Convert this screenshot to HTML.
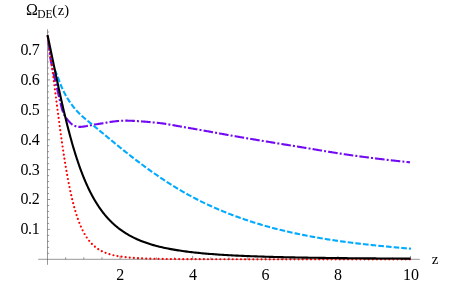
<!DOCTYPE html>
<html><head><meta charset="utf-8"><title>plot</title>
<style>
html,body{margin:0;padding:0;background:#fff;}
svg{display:block;will-change:transform;}
text{font-family:"Liberation Serif",serif;font-size:16px;fill:#000;}
</style></head><body>
<svg width="459" height="284" viewBox="0 0 459 284">
<rect width="459" height="284" fill="#fff"/>
<g stroke="#505050" stroke-width="0.6" fill="none">
<path d="M38.2,259.3 H419.8 M47.5,264.8 V29.2"/>
<path d="M65.65,259.30 v-2.0 M83.80,259.30 v-2.0 M101.95,259.30 v-2.0 M120.10,259.30 v-3.4 M138.25,259.30 v-2.0 M156.40,259.30 v-2.0 M174.55,259.30 v-2.0 M192.70,259.30 v-3.4 M210.85,259.30 v-2.0 M229.00,259.30 v-2.0 M247.15,259.30 v-2.0 M265.30,259.30 v-3.4 M283.45,259.30 v-2.0 M301.60,259.30 v-2.0 M319.75,259.30 v-2.0 M337.90,259.30 v-3.4 M356.05,259.30 v-2.0 M374.20,259.30 v-2.0 M392.35,259.30 v-2.0 M410.50,259.30 v-3.4 M47.50,253.32 h1.6 M47.50,247.34 h1.6 M47.50,241.36 h1.6 M47.50,235.38 h1.6 M47.50,229.40 h2.6 M47.50,223.42 h1.6 M47.50,217.44 h1.6 M47.50,211.46 h1.6 M47.50,205.48 h1.6 M47.50,199.50 h2.6 M47.50,193.52 h1.6 M47.50,187.54 h1.6 M47.50,181.56 h1.6 M47.50,175.58 h1.6 M47.50,169.60 h2.6 M47.50,163.62 h1.6 M47.50,157.64 h1.6 M47.50,151.66 h1.6 M47.50,145.68 h1.6 M47.50,139.70 h2.6 M47.50,133.72 h1.6 M47.50,127.74 h1.6 M47.50,121.76 h1.6 M47.50,115.78 h1.6 M47.50,109.80 h2.6 M47.50,103.82 h1.6 M47.50,97.84 h1.6 M47.50,91.86 h1.6 M47.50,85.88 h1.6 M47.50,79.90 h2.6 M47.50,73.92 h1.6 M47.50,67.94 h1.6 M47.50,61.96 h1.6 M47.50,55.98 h1.6 M47.50,50.00 h2.6 M47.50,44.02 h1.6 M47.50,38.04 h1.6 M47.50,32.06 h1.6"/>
</g>
<g fill="none" stroke-width="2.1" stroke-linejoin="round">
<path d="M47.50,35.00 L47.64,35.86 L47.77,36.73 L47.90,37.59 L48.03,38.46 L48.16,39.32 L48.28,40.19 L48.40,41.05 L48.52,41.92 L48.63,42.79 L48.74,43.65 L48.84,44.52 L48.94,45.39 L49.04,46.26 L49.13,47.13 L49.21,48.00 L49.29,48.87 L49.36,49.74 L49.44,50.61 L49.52,51.48 L49.60,52.35 L49.68,53.22 L49.77,54.09 L49.87,54.96 L49.98,55.83 L50.10,56.69 L50.23,57.55 L50.38,58.41 L50.53,59.27 L50.70,60.13 L50.87,60.99 L51.05,61.85 L51.23,62.70 L51.41,63.56 L51.58,64.42 L51.75,65.27 L51.93,66.13 L52.10,66.99 L52.28,67.84 L52.45,68.70 L52.63,69.55 L52.81,70.41 L53.00,71.26 L53.18,72.12 L53.37,72.97 L53.56,73.82 L53.75,74.68 L53.95,75.53 L54.16,76.38 L54.37,77.22 L54.58,78.07 L54.79,78.92 L55.00,79.77 L55.22,80.62 L55.43,81.46 L55.64,82.31 L55.85,83.16 L56.06,84.01 L56.27,84.86 L56.47,85.71 L56.67,86.56 L56.86,87.41 L57.05,88.27 L57.25,89.12 L57.44,89.97 L57.62,90.82 L57.81,91.68 L58.00,92.53 L58.19,93.39 L58.38,94.24 L58.58,95.09 L58.77,95.94 L58.97,96.79 L59.17,97.64 L59.38,98.49 L59.58,99.34 L59.80,100.19 L60.01,101.04 L60.22,101.90 L60.42,102.76 L60.62,103.62 L60.83,104.48 L61.04,105.34 L61.25,106.20 L61.47,107.06 L61.70,107.91 L61.93,108.76 L62.18,109.60 L62.44,110.42 L62.71,111.24 L63.00,112.05 L63.30,112.84 L63.63,113.62 L64.00,114.39 L64.40,115.16 L64.84,115.92 L65.31,116.68 L65.81,117.42 L66.32,118.15 L66.86,118.86 L67.40,119.56 L67.96,120.24 L68.52,120.90 L69.09,121.54 L69.69,122.20 L70.32,122.85 L70.97,123.47 L71.65,124.05 L72.35,124.56 L73.07,124.98 L73.82,125.36 L74.62,125.73 L75.45,126.08 L76.30,126.40 L77.16,126.65 L78.03,126.83 L78.89,126.90 L79.73,126.89 L80.58,126.85 L81.44,126.80 L82.29,126.71 L83.15,126.61 L84.01,126.50 L84.87,126.37 L85.74,126.22 L86.61,126.07 L87.47,125.90 L88.34,125.73 L89.21,125.56 L90.08,125.39 L90.95,125.21 L91.82,125.04 L92.69,124.87 L93.56,124.71 L94.43,124.56 L95.30,124.42 L96.16,124.29 L97.03,124.17 L97.90,124.04 L98.76,123.91 L99.63,123.77 L100.49,123.63 L101.36,123.49 L102.22,123.35 L103.09,123.20 L103.96,123.05 L104.82,122.91 L105.69,122.76 L106.55,122.61 L107.42,122.47 L108.29,122.33 L109.15,122.18 L110.02,122.05 L110.89,121.91 L111.75,121.78 L112.62,121.65 L113.49,121.53 L114.36,121.42 L115.22,121.31 L116.09,121.20 L116.96,121.11 L117.83,121.02 L118.69,120.94 L119.56,120.87 L120.43,120.80 L121.30,120.75 L122.17,120.71 L123.04,120.68 L123.91,120.66 L124.78,120.65 L125.65,120.65 L126.52,120.66 L127.39,120.67 L128.26,120.69 L129.13,120.71 L130.00,120.73 L130.87,120.76 L131.75,120.79 L132.62,120.83 L133.49,120.87 L134.37,120.91 L135.24,120.96 L136.11,121.01 L136.99,121.06 L137.86,121.12 L138.74,121.18 L139.61,121.24 L140.48,121.30 L141.36,121.37 L142.23,121.43 L143.11,121.50 L143.98,121.58 L144.85,121.65 L145.73,121.72 L146.60,121.80 L147.47,121.88 L148.34,121.96 L149.21,122.04 L150.09,122.12 L150.96,122.20 L151.83,122.28 L152.70,122.36 L153.57,122.44 L154.44,122.53 L155.31,122.61 L156.17,122.69 L157.04,122.77 L157.91,122.86 L158.77,122.96 L159.64,123.06 L160.51,123.17 L161.37,123.28 L162.24,123.39 L163.10,123.52 L163.96,123.64 L164.83,123.77 L165.69,123.90 L166.55,124.04 L167.42,124.18 L168.28,124.33 L169.14,124.47 L170.01,124.62 L170.87,124.77 L171.73,124.92 L172.59,125.08 L173.45,125.23 L174.31,125.39 L175.18,125.55 L176.04,125.70 L176.90,125.86 L177.76,126.02 L178.62,126.17 L179.48,126.33 L180.34,126.49 L181.21,126.64 L182.07,126.79 L182.93,126.95 L183.79,127.09 L184.65,127.24 L185.51,127.39 L186.38,127.53 L187.24,127.68 L188.10,127.82 L188.96,127.97 L189.82,128.12 L190.68,128.27 L191.54,128.42 L192.41,128.57 L193.27,128.72 L194.13,128.87 L194.99,129.02 L195.85,129.17 L196.71,129.32 L197.57,129.47 L198.43,129.63 L199.29,129.78 L200.15,129.93 L201.01,130.09 L201.87,130.24 L202.73,130.40 L203.59,130.55 L204.45,130.71 L205.31,130.86 L206.17,131.02 L207.03,131.17 L207.89,131.33 L208.75,131.48 L209.61,131.64 L210.47,131.80 L211.33,131.95 L212.19,132.11 L213.05,132.27 L213.91,132.42 L214.77,132.58 L215.63,132.74 L216.49,132.89 L217.35,133.05 L218.21,133.21 L219.07,133.36 L219.93,133.52 L220.79,133.67 L221.65,133.83 L222.51,133.99 L223.37,134.14 L224.23,134.30 L225.09,134.45 L225.95,134.61 L226.81,134.76 L227.67,134.92 L228.53,135.07 L229.39,135.22 L230.25,135.38 L231.11,135.53 L231.97,135.68 L232.84,135.84 L233.70,135.99 L234.56,136.14 L235.42,136.29 L236.28,136.44 L237.14,136.59 L238.00,136.74 L238.86,136.89 L239.72,137.04 L240.58,137.18 L241.45,137.33 L242.31,137.48 L243.17,137.62 L244.03,137.77 L244.89,137.92 L245.75,138.06 L246.62,138.21 L247.48,138.36 L248.34,138.50 L249.20,138.65 L250.06,138.79 L250.92,138.94 L251.79,139.08 L252.65,139.23 L253.51,139.37 L254.37,139.52 L255.23,139.66 L256.10,139.80 L256.96,139.95 L257.82,140.09 L258.68,140.23 L259.54,140.38 L260.41,140.52 L261.27,140.66 L262.13,140.81 L262.99,140.95 L263.86,141.09 L264.72,141.23 L265.58,141.38 L266.44,141.52 L267.31,141.66 L268.17,141.80 L269.03,141.94 L269.89,142.09 L270.75,142.23 L271.62,142.37 L272.48,142.51 L273.34,142.65 L274.20,142.79 L275.07,142.93 L275.93,143.07 L276.79,143.22 L277.66,143.36 L278.52,143.50 L279.38,143.64 L280.24,143.78 L281.11,143.92 L281.97,144.06 L282.83,144.20 L283.69,144.34 L284.56,144.48 L285.42,144.62 L286.28,144.76 L287.14,144.90 L288.01,145.04 L288.87,145.18 L289.73,145.32 L290.60,145.46 L291.46,145.60 L292.32,145.74 L293.18,145.88 L294.05,146.02 L294.91,146.16 L295.77,146.30 L296.63,146.44 L297.50,146.58 L298.36,146.72 L299.22,146.86 L300.08,147.00 L300.95,147.14 L301.81,147.29 L302.67,147.43 L303.53,147.57 L304.40,147.71 L305.26,147.86 L306.12,148.00 L306.98,148.14 L307.85,148.29 L308.71,148.43 L309.57,148.57 L310.43,148.72 L311.30,148.86 L312.16,149.01 L313.02,149.15 L313.88,149.29 L314.74,149.44 L315.61,149.58 L316.47,149.73 L317.33,149.87 L318.19,150.01 L319.06,150.16 L319.92,150.30 L320.78,150.44 L321.64,150.59 L322.51,150.73 L323.37,150.87 L324.23,151.01 L325.09,151.16 L325.96,151.30 L326.82,151.44 L327.68,151.58 L328.54,151.72 L329.41,151.86 L330.27,152.00 L331.13,152.14 L332.00,152.28 L332.86,152.42 L333.72,152.56 L334.59,152.70 L335.45,152.83 L336.31,152.97 L337.17,153.10 L338.04,153.24 L338.90,153.37 L339.77,153.51 L340.63,153.64 L341.49,153.77 L342.36,153.91 L343.22,154.04 L344.08,154.17 L344.95,154.30 L345.81,154.43 L346.68,154.55 L347.54,154.68 L348.41,154.81 L349.27,154.93 L350.14,155.06 L351.00,155.18 L351.87,155.30 L352.73,155.42 L353.60,155.54 L354.46,155.66 L355.33,155.78 L356.19,155.90 L357.06,156.02 L357.92,156.13 L358.79,156.25 L359.65,156.36 L360.52,156.48 L361.39,156.60 L362.25,156.71 L363.12,156.82 L363.99,156.94 L364.85,157.05 L365.72,157.17 L366.58,157.28 L367.45,157.39 L368.32,157.50 L369.18,157.61 L370.05,157.72 L370.92,157.84 L371.78,157.95 L372.65,158.05 L373.52,158.16 L374.39,158.27 L375.25,158.38 L376.12,158.49 L376.99,158.60 L377.85,158.70 L378.72,158.81 L379.59,158.92 L380.46,159.02 L381.33,159.13 L382.19,159.23 L383.06,159.33 L383.93,159.44 L384.80,159.54 L385.66,159.64 L386.53,159.75 L387.40,159.85 L388.27,159.95 L389.14,160.05 L390.01,160.15 L390.87,160.25 L391.74,160.35 L392.61,160.44 L393.48,160.54 L394.35,160.64 L395.22,160.74 L396.09,160.83 L396.96,160.93 L397.83,161.02 L398.69,161.12 L399.56,161.21 L400.43,161.31 L401.30,161.40 L402.17,161.49 L403.04,161.58 L403.91,161.68 L404.78,161.77 L405.65,161.86 L406.52,161.95 L407.39,162.04 L408.26,162.12 L409.13,162.21 L410.00,162.30" stroke="#7209f2" stroke-dasharray="0 2.1 2 2.1 9.6 0"/>
<path d="M54.76,69.67 L55.14,70.56 L55.52,71.46 L55.90,72.38 L56.28,73.31 L56.66,74.26 L57.04,75.22 L57.42,76.19 L57.80,77.17 L58.18,78.16 L58.56,79.16 L58.94,80.17 L59.32,81.18 L59.70,82.19 L60.08,83.20 L60.46,84.19 L60.84,85.15 L61.22,86.09 L61.60,86.99 L61.98,87.87 L62.36,88.72 L62.74,89.54 L63.12,90.34 L63.50,91.12 L63.88,91.87 L64.26,92.61 L64.64,93.34 L65.02,94.05 L65.40,94.74 L65.78,95.43 L66.17,96.10 L66.55,96.76 L66.93,97.41 L67.31,98.05 L67.69,98.68 L68.07,99.30 L68.45,99.90 L68.83,100.50 L69.21,101.08 L69.59,101.66 L69.97,102.22 L70.35,102.77 L70.73,103.32 L71.11,103.86 L71.49,104.38 L71.87,104.90 L72.25,105.41 L72.63,105.91 L73.01,106.40 L73.39,106.88 L73.77,107.36 L74.15,107.82 L74.53,108.28 L74.91,108.73 L75.29,109.18 L75.67,109.62 L76.05,110.05 L76.43,110.47 L76.81,110.89 L77.19,111.30 L77.57,111.70 L77.95,112.10 L78.33,112.49 L78.71,112.88 L79.09,113.26 L79.47,113.64 L79.85,114.01 L80.23,114.38 L80.61,114.74 L80.99,115.10 L81.37,115.45 L81.75,115.80 L82.13,116.15 L82.51,116.49 L82.89,116.83 L83.27,117.16 L83.65,117.50 L84.03,117.82 L84.41,118.15 L84.79,118.47 L85.17,118.80 L85.55,119.12 L85.93,119.43 L86.31,119.75 L86.69,120.06 L87.07,120.38 L87.45,120.69 L87.83,121.00 L88.21,121.31 L88.59,121.62 L88.98,121.93 L89.36,122.24 L89.74,122.54 L90.12,122.85 L90.50,123.16 L90.88,123.47 L91.26,123.78 L91.64,124.09 L92.02,124.40 L92.40,124.71 L92.78,125.02 L93.16,125.34 L93.54,125.65 L93.92,125.96 L94.30,126.27 L94.68,126.58 L95.06,126.89 L95.44,127.21 L95.82,127.52 L96.20,127.83 L96.58,128.14 L96.96,128.46 L97.34,128.77 L97.72,129.08 L98.10,129.40 L98.48,129.71 L98.86,130.03 L99.24,130.34 L99.62,130.65 L100.00,130.97 L101.04,131.83 L102.08,132.69 L103.12,133.55 L104.16,134.41 L105.20,135.27 L106.24,136.13 L107.28,136.99 L108.32,137.85 L109.36,138.71 L110.40,139.57 L111.44,140.42 L112.48,141.28 L113.52,142.13 L114.56,142.98 L115.60,143.84 L116.64,144.68 L117.68,145.53 L118.72,146.38 L119.76,147.22 L120.80,148.06 L121.84,148.90 L122.88,149.73 L123.92,150.56 L124.96,151.39 L126.00,152.22 L127.04,153.04 L128.08,153.86 L129.12,154.68 L130.16,155.49 L131.20,156.30 L132.24,157.11 L133.28,157.92 L134.32,158.72 L135.36,159.51 L136.40,160.31 L137.44,161.10 L138.48,161.89 L139.53,162.67 L140.57,163.46 L141.61,164.23 L142.65,165.01 L143.69,165.78 L144.73,166.55 L145.77,167.31 L146.81,168.07 L147.85,168.82 L148.89,169.58 L149.93,170.32 L150.97,171.07 L152.01,171.81 L153.05,172.54 L154.09,173.27 L155.13,174.00 L156.17,174.72 L157.21,175.44 L158.25,176.16 L159.29,176.87 L160.33,177.57 L161.37,178.28 L162.41,178.97 L163.45,179.66 L164.49,180.35 L165.53,181.04 L166.57,181.71 L167.61,182.39 L168.65,183.06 L169.69,183.72 L170.73,184.38 L171.77,185.04 L172.81,185.69 L173.85,186.33 L174.89,186.97 L175.93,187.60 L176.97,188.23 L178.01,188.86 L179.05,189.48 L180.09,190.09 L181.13,190.70 L182.17,191.30 L183.21,191.90 L184.25,192.49 L185.29,193.08 L186.33,193.67 L187.37,194.24 L188.41,194.82 L189.45,195.39 L190.49,195.95 L191.53,196.51 L192.57,197.07 L193.61,197.62 L194.65,198.16 L195.69,198.70 L196.73,199.24 L197.77,199.77 L198.81,200.29 L199.85,200.82 L200.89,201.33 L201.93,201.85 L202.97,202.36 L204.01,202.86 L205.05,203.36 L206.09,203.86 L207.13,204.35 L208.17,204.83 L209.21,205.32 L210.25,205.79 L211.29,206.27 L212.33,206.74 L213.37,207.20 L214.41,207.67 L215.45,208.12 L216.49,208.58 L217.54,209.03 L218.58,209.47 L219.62,209.91 L220.66,210.35 L221.70,210.79 L222.74,211.22 L223.78,211.64 L224.82,212.06 L225.86,212.48 L226.90,212.90 L227.94,213.31 L228.98,213.72 L230.02,214.12 L231.06,214.52 L232.10,214.92 L233.14,215.31 L234.18,215.70 L235.22,216.09 L236.26,216.47 L237.30,216.85 L238.34,217.22 L239.38,217.60 L240.42,217.96 L241.46,218.33 L242.50,218.69 L243.54,219.05 L244.58,219.41 L245.62,219.76 L246.66,220.11 L247.70,220.46 L248.74,220.80 L249.78,221.14 L250.82,221.48 L251.86,221.81 L252.90,222.14 L253.94,222.47 L254.98,222.80 L256.02,223.12 L257.06,223.44 L258.10,223.76 L259.14,224.07 L260.18,224.38 L261.22,224.69 L262.26,225.00 L263.30,225.30 L264.34,225.60 L265.38,225.89 L266.42,226.19 L267.46,226.48 L268.50,226.77 L269.54,227.06 L270.58,227.34 L271.62,227.62 L272.66,227.90 L273.70,228.17 L274.74,228.45 L275.78,228.72 L276.82,228.98 L277.86,229.25 L278.90,229.51 L279.94,229.77 L280.98,230.03 L282.02,230.29 L283.06,230.54 L284.10,230.79 L285.14,231.04 L286.18,231.28 L287.22,231.52 L288.26,231.77 L289.30,232.00 L290.34,232.24 L291.38,232.47 L292.42,232.71 L293.46,232.93 L294.51,233.16 L295.55,233.39 L296.59,233.61 L297.63,233.83 L298.67,234.05 L299.71,234.26 L300.75,234.48 L301.79,234.69 L302.83,234.90 L303.87,235.11 L304.91,235.31 L305.95,235.51 L306.99,235.72 L308.03,235.92 L309.07,236.11 L310.11,236.31 L311.15,236.50 L312.19,236.69 L313.23,236.88 L314.27,237.07 L315.31,237.26 L316.35,237.44 L317.39,237.62 L318.43,237.80 L319.47,237.98 L320.51,238.16 L321.55,238.33 L322.59,238.51 L323.63,238.68 L324.67,238.85 L325.71,239.01 L326.75,239.18 L327.79,239.34 L328.83,239.51 L329.87,239.67 L330.91,239.83 L331.95,239.99 L332.99,240.14 L334.03,240.30 L335.07,240.45 L336.11,240.60 L337.15,240.75 L338.19,240.90 L339.23,241.05 L340.27,241.20 L341.31,241.34 L342.35,241.48 L343.39,241.63 L344.43,241.77 L345.47,241.90 L346.51,242.04 L347.55,242.18 L348.59,242.31 L349.63,242.45 L350.67,242.58 L351.71,242.71 L352.75,242.84 L353.79,242.97 L354.83,243.10 L355.87,243.22 L356.91,243.35 L357.95,243.47 L358.99,243.60 L360.03,243.72 L361.07,243.84 L362.11,243.96 L363.15,244.08 L364.19,244.20 L365.23,244.31 L366.27,244.43 L367.31,244.54 L368.35,244.66 L369.39,244.77 L370.43,244.88 L371.47,244.99 L372.52,245.10 L373.56,245.21 L374.60,245.32 L375.64,245.43 L376.68,245.54 L377.72,245.64 L378.76,245.75 L379.80,245.85 L380.84,245.96 L381.88,246.06 L382.92,246.16 L383.96,246.26 L385.00,246.36 L386.04,246.47 L387.08,246.56 L388.12,246.66 L389.16,246.76 L390.20,246.86 L391.24,246.96 L392.28,247.06 L393.32,247.15 L394.36,247.25 L395.40,247.34 L396.44,247.44 L397.48,247.53 L398.52,247.63 L399.56,247.72 L400.60,247.81 L401.64,247.91 L402.68,248.00 L403.72,248.09 L404.76,248.19 L405.80,248.28 L406.84,248.37 L407.88,248.46 L408.92,248.55 L409.96,248.64 L411.00,248.73" stroke="#00aaff" stroke-dasharray="5.6 2.1"/>
<path d="M47.50,35.05 L47.86,37.42 L48.23,39.83 L48.59,42.28 L48.95,44.77 L49.31,47.29 L49.68,49.85 L50.04,52.44 L50.40,55.06 L50.77,57.70 L51.13,60.38 L51.49,63.07 L51.86,65.80 L52.22,68.54 L52.58,71.30 L52.95,74.07 L53.31,76.86 L53.67,79.67 L54.03,82.48 L54.40,85.30 L54.76,88.13 L55.12,90.96 L55.49,93.79 L55.85,96.62 L56.21,99.45 L56.58,102.28 L56.94,105.09 L57.30,107.90 L57.66,110.69 L58.03,113.48 L58.39,116.25 L58.75,119.00 L59.12,121.73 L59.48,124.45 L59.84,127.14 L60.20,129.81 L60.57,132.45 L60.93,135.07 L61.29,137.66 L61.66,140.22 L62.02,142.75 L62.38,145.26 L62.75,147.73 L63.11,150.16 L63.47,152.57 L63.84,154.94 L64.20,157.27 L64.56,159.57 L64.92,161.84 L65.29,164.06 L65.65,166.25 L66.01,168.41 L66.38,170.52 L66.74,172.60 L67.10,174.64 L67.47,176.64 L67.83,178.61 L68.19,180.53 L68.55,182.42 L68.92,184.27 L69.28,186.09 L69.64,187.86 L70.01,189.60 L70.37,191.30 L70.73,192.97 L71.09,194.60 L71.46,196.19 L71.82,197.75 L72.18,199.27 L72.55,200.76 L72.91,202.21 L73.27,203.64 L73.64,205.02 L74.00,206.38 L74.36,207.70 L74.72,208.99 L75.09,210.25 L75.45,211.48 L75.81,212.68 L76.18,213.85 L76.54,215.00 L76.90,216.11 L77.27,217.19 L77.63,218.25 L77.99,219.29 L78.35,220.29 L78.72,221.27 L79.08,222.23 L79.44,223.16 L79.81,224.07 L80.17,224.95 L80.53,225.81 L80.90,226.65 L81.26,227.47 L81.62,228.27 L81.98,229.04 L82.35,229.80 L82.71,230.54 L83.07,231.25 L83.44,231.95 L83.80,232.63 L84.16,233.29 L84.53,233.94 L84.89,234.57 L85.25,235.18 L85.62,235.77 L85.98,236.35 L86.34,236.92 L86.70,237.47 L87.07,238.00 L87.43,238.53 L87.79,239.03 L88.16,239.53 L88.52,240.01 L88.88,240.48 L89.25,240.93 L89.61,241.38 L89.97,241.81 L90.33,242.23 L90.70,242.64 L91.06,243.04 L91.42,243.43 L91.79,243.81 L92.15,244.18 L92.51,244.54 L92.88,244.89 L93.24,245.23 L93.60,245.57 L93.96,245.89 L94.33,246.20 L94.69,246.51 L95.05,246.81 L95.42,247.10 L95.78,247.39 L96.14,247.66 L96.50,247.93 L96.87,248.20 L97.23,248.45 L97.59,248.70 L97.96,248.95 L98.32,249.18 L98.68,249.41 L99.05,249.64 L99.41,249.86 L99.77,250.07 L100.13,250.28 L100.50,250.49 L100.86,250.68 L101.22,250.88 L101.59,251.07 L101.95,251.25 L102.31,251.43 L102.68,251.60 L103.04,251.77 L103.40,251.94 L103.77,252.10 L104.13,252.26 L104.49,252.41 L104.85,252.56 L105.22,252.71 L105.58,252.85 L105.94,252.99 L106.31,253.13 L106.67,253.26 L107.03,253.39 L107.40,253.52 L107.76,253.64 L108.12,253.76 L108.48,253.88 L108.85,254.00 L109.21,254.11 L109.57,254.22 L109.94,254.33 L110.30,254.43 L110.66,254.53 L111.02,254.63 L111.39,254.73 L111.75,254.82 L112.11,254.92 L112.48,255.01 L112.84,255.10 L113.20,255.18 L113.57,255.27 L113.93,255.35 L114.29,255.43 L114.66,255.51 L115.02,255.59 L115.38,255.66 L115.74,255.73 L116.11,255.81 L116.47,255.88 L116.83,255.94 L117.20,256.01 L117.56,256.08 L117.92,256.14 L118.28,256.20 L118.65,256.26 L119.01,256.32 L119.37,256.38 L119.74,256.44 L120.10,256.50 L121.55,256.71 L123.00,256.90 L124.46,257.08 L125.91,257.24 L127.36,257.39 L128.81,257.53 L130.26,257.65 L131.72,257.77 L133.17,257.88 L134.62,257.97 L136.07,258.06 L137.52,258.15 L138.98,258.23 L140.43,258.30 L141.88,258.36 L143.33,258.42 L144.78,258.48 L146.24,258.53 L147.69,258.58 L149.14,258.63 L150.59,258.67 L152.04,258.71 L153.50,258.74 L154.95,258.78 L156.40,258.81 L157.85,258.84 L159.30,258.87 L160.76,258.89 L162.21,258.92 L163.66,258.94 L165.11,258.96 L166.56,258.98 L168.02,259.00 L169.47,259.01 L170.92,259.03 L172.37,259.04 L173.82,259.06 L175.28,259.07 L176.73,259.08 L178.18,259.09 L179.63,259.11 L181.08,259.12 L182.54,259.13 L183.99,259.13 L185.44,259.14 L186.89,259.15 L188.34,259.16 L189.80,259.17 L191.25,259.17 L192.70,259.18 L194.15,259.18 L195.60,259.19 L197.06,259.20 L198.51,259.20 L199.96,259.21 L201.41,259.21 L202.86,259.21 L204.32,259.22 L205.77,259.22 L207.22,259.23 L208.67,259.23 L210.12,259.23 L211.58,259.24 L213.03,259.24 L214.48,259.24 L215.93,259.24 L217.38,259.25 L218.84,259.25 L220.29,259.25 L221.74,259.25 L223.19,259.25 L224.64,259.26 L226.10,259.26 L227.55,259.26 L229.00,259.26 L230.45,259.26 L231.90,259.27 L233.36,259.27 L234.81,259.27 L236.26,259.27 L237.71,259.27 L239.16,259.27 L240.62,259.27 L242.07,259.27 L243.52,259.27 L244.97,259.28 L246.42,259.28 L247.88,259.28 L249.33,259.28 L250.78,259.28 L252.23,259.28 L253.68,259.28 L255.14,259.28 L256.59,259.28 L258.04,259.28 L259.49,259.28 L260.94,259.28 L262.40,259.28 L263.85,259.29 L265.30,259.29 L266.75,259.29 L268.20,259.29 L269.66,259.29 L271.11,259.29 L272.56,259.29 L274.01,259.29 L275.46,259.29 L276.92,259.29 L278.37,259.29 L279.82,259.29 L281.27,259.29 L282.72,259.29 L284.18,259.29 L285.63,259.29 L287.08,259.29 L288.53,259.29 L289.98,259.29 L291.44,259.29 L292.89,259.29 L294.34,259.29 L295.79,259.29 L297.24,259.29 L298.70,259.29 L300.15,259.29 L301.60,259.29 L303.05,259.29 L304.50,259.29 L305.96,259.29 L307.41,259.29 L308.86,259.29 L310.31,259.30 L311.76,259.30 L313.22,259.30 L314.67,259.30 L316.12,259.30 L317.57,259.30 L319.02,259.30 L320.48,259.30 L321.93,259.30 L323.38,259.30 L324.83,259.30 L326.28,259.30 L327.74,259.30 L329.19,259.30 L330.64,259.30 L332.09,259.30 L333.54,259.30 L335.00,259.30 L336.45,259.30 L337.90,259.30 L339.35,259.30 L340.80,259.30 L342.26,259.30 L343.71,259.30 L345.16,259.30 L346.61,259.30 L348.06,259.30 L349.52,259.30 L350.97,259.30 L352.42,259.30 L353.87,259.30 L355.32,259.30 L356.78,259.30 L358.23,259.30 L359.68,259.30 L361.13,259.30 L362.58,259.30 L364.04,259.30 L365.49,259.30 L366.94,259.30 L368.39,259.30 L369.84,259.30 L371.30,259.30 L372.75,259.30 L374.20,259.30 L375.65,259.30 L377.10,259.30 L378.56,259.30 L380.01,259.30 L381.46,259.30 L382.91,259.30 L384.36,259.30 L385.82,259.30 L387.27,259.30 L388.72,259.30 L390.17,259.30 L391.62,259.30 L393.08,259.30 L394.53,259.30 L395.98,259.30 L397.43,259.30 L398.88,259.30 L400.34,259.30 L401.79,259.30 L403.24,259.30 L404.69,259.30 L406.14,259.30 L407.60,259.30 L409.05,259.30 L410.50,259.30" stroke="#ff0000" stroke-width="2.2" stroke-linecap="round" stroke-dasharray="0 4.12" stroke-dashoffset="2.9"/>
<path d="M47.50,35.05 L47.86,36.74 L48.23,38.43 L48.59,40.13 L48.95,41.84 L49.31,43.55 L49.68,45.27 L50.04,46.99 L50.40,48.72 L50.77,50.45 L51.13,52.19 L51.49,53.93 L51.86,55.66 L52.22,57.40 L52.58,59.15 L52.95,60.89 L53.31,62.63 L53.67,64.37 L54.03,66.11 L54.40,67.84 L54.76,69.58 L55.12,71.31 L55.49,73.04 L55.85,74.77 L56.21,76.49 L56.58,78.20 L56.94,79.91 L57.30,81.62 L57.66,83.32 L58.03,85.01 L58.39,86.70 L58.75,88.38 L59.12,90.05 L59.48,91.72 L59.84,93.38 L60.20,95.03 L60.57,96.67 L60.93,98.30 L61.29,99.92 L61.66,101.53 L62.02,103.14 L62.38,104.73 L62.75,106.31 L63.11,107.89 L63.47,109.45 L63.84,111.00 L64.20,112.54 L64.56,114.07 L64.92,115.59 L65.29,117.10 L65.65,118.59 L66.01,120.08 L66.38,121.55 L66.74,123.01 L67.10,124.46 L67.47,125.89 L67.83,127.32 L68.19,128.73 L68.55,130.13 L68.92,131.52 L69.28,132.89 L69.64,134.25 L70.01,135.60 L70.37,136.94 L70.73,138.26 L71.09,139.57 L71.46,140.87 L71.82,142.16 L72.18,143.43 L72.55,144.69 L72.91,145.94 L73.27,147.18 L73.64,148.40 L74.00,149.61 L74.36,150.81 L74.72,152.00 L75.09,153.17 L75.45,154.33 L75.81,155.48 L76.18,156.61 L76.54,157.74 L76.90,158.85 L77.27,159.95 L77.63,161.04 L77.99,162.11 L78.35,163.18 L78.72,164.23 L79.08,165.27 L79.44,166.30 L79.81,167.31 L80.17,168.32 L80.53,169.31 L80.90,170.29 L81.26,171.26 L81.62,172.22 L81.98,173.17 L82.35,174.11 L82.71,175.04 L83.07,175.95 L83.44,176.86 L83.80,177.75 L84.16,178.64 L84.53,179.51 L84.89,180.38 L85.25,181.23 L85.62,182.07 L85.98,182.91 L86.34,183.73 L86.70,184.54 L87.07,185.35 L87.43,186.14 L87.79,186.93 L88.16,187.70 L88.52,188.47 L88.88,189.22 L89.25,189.97 L89.61,190.71 L89.97,191.44 L90.33,192.16 L90.70,192.87 L91.06,193.58 L91.42,194.27 L91.79,194.96 L92.15,195.64 L92.51,196.31 L92.88,196.97 L93.24,197.62 L93.60,198.27 L93.96,198.91 L94.33,199.54 L94.69,200.16 L95.05,200.77 L95.42,201.38 L95.78,201.98 L96.14,202.57 L96.50,203.16 L96.87,203.74 L97.23,204.31 L97.59,204.87 L97.96,205.43 L98.32,205.98 L98.68,206.53 L99.05,207.07 L99.41,207.60 L99.77,208.12 L100.13,208.64 L100.50,209.15 L100.86,209.66 L101.22,210.16 L101.59,210.65 L101.95,211.14 L102.31,211.62 L102.68,212.10 L103.04,212.57 L103.40,213.03 L103.77,213.49 L104.13,213.94 L104.49,214.39 L104.85,214.84 L105.22,215.27 L105.58,215.71 L105.94,216.13 L106.31,216.55 L106.67,216.97 L107.03,217.38 L107.40,217.79 L107.76,218.19 L108.12,218.59 L108.48,218.98 L108.85,219.37 L109.21,219.75 L109.57,220.13 L109.94,220.51 L110.30,220.88 L110.66,221.24 L111.02,221.61 L111.39,221.96 L111.75,222.32 L112.11,222.67 L112.48,223.01 L112.84,223.35 L113.20,223.69 L113.57,224.02 L113.93,224.35 L114.29,224.68 L114.66,225.00 L115.02,225.31 L115.38,225.63 L115.74,225.94 L116.11,226.25 L116.47,226.55 L116.83,226.85 L117.20,227.15 L117.56,227.44 L117.92,227.73 L118.28,228.02 L118.65,228.30 L119.01,228.58 L119.37,228.86 L119.74,229.13 L120.10,229.40 L121.55,230.45 L123.00,231.46 L124.46,232.42 L125.91,233.34 L127.36,234.22 L128.81,235.06 L130.26,235.87 L131.72,236.65 L133.17,237.39 L134.62,238.10 L136.07,238.78 L137.52,239.43 L138.98,240.06 L140.43,240.66 L141.88,241.24 L143.33,241.79 L144.78,242.32 L146.24,242.83 L147.69,243.33 L149.14,243.80 L150.59,244.26 L152.04,244.69 L153.50,245.12 L154.95,245.52 L156.40,245.91 L157.85,246.29 L159.30,246.65 L160.76,247.00 L162.21,247.34 L163.66,247.66 L165.11,247.98 L166.56,248.28 L168.02,248.57 L169.47,248.86 L170.92,249.13 L172.37,249.39 L173.82,249.65 L175.28,249.89 L176.73,250.13 L178.18,250.36 L179.63,250.58 L181.08,250.80 L182.54,251.01 L183.99,251.21 L185.44,251.40 L186.89,251.59 L188.34,251.78 L189.80,251.95 L191.25,252.13 L192.70,252.29 L194.15,252.45 L195.60,252.61 L197.06,252.76 L198.51,252.91 L199.96,253.05 L201.41,253.19 L202.86,253.33 L204.32,253.46 L205.77,253.59 L207.22,253.71 L208.67,253.83 L210.12,253.95 L211.58,254.06 L213.03,254.17 L214.48,254.28 L215.93,254.38 L217.38,254.48 L218.84,254.58 L220.29,254.68 L221.74,254.77 L223.19,254.86 L224.64,254.95 L226.10,255.04 L227.55,255.12 L229.00,255.20 L230.45,255.28 L231.90,255.36 L233.36,255.44 L234.81,255.51 L236.26,255.58 L237.71,255.65 L239.16,255.72 L240.62,255.79 L242.07,255.85 L243.52,255.92 L244.97,255.98 L246.42,256.04 L247.88,256.10 L249.33,256.16 L250.78,256.21 L252.23,256.27 L253.68,256.32 L255.14,256.37 L256.59,256.42 L258.04,256.47 L259.49,256.52 L260.94,256.57 L262.40,256.62 L263.85,256.66 L265.30,256.71 L266.75,256.75 L268.20,256.79 L269.66,256.84 L271.11,256.88 L272.56,256.92 L274.01,256.95 L275.46,256.99 L276.92,257.03 L278.37,257.07 L279.82,257.10 L281.27,257.14 L282.72,257.17 L284.18,257.21 L285.63,257.24 L287.08,257.27 L288.53,257.30 L289.98,257.33 L291.44,257.36 L292.89,257.39 L294.34,257.42 L295.79,257.45 L297.24,257.48 L298.70,257.51 L300.15,257.53 L301.60,257.56 L303.05,257.58 L304.50,257.61 L305.96,257.63 L307.41,257.66 L308.86,257.68 L310.31,257.71 L311.76,257.73 L313.22,257.75 L314.67,257.77 L316.12,257.79 L317.57,257.82 L319.02,257.84 L320.48,257.86 L321.93,257.88 L323.38,257.90 L324.83,257.92 L326.28,257.93 L327.74,257.95 L329.19,257.97 L330.64,257.99 L332.09,258.01 L333.54,258.02 L335.00,258.04 L336.45,258.06 L337.90,258.07 L339.35,258.09 L340.80,258.11 L342.26,258.12 L343.71,258.14 L345.16,258.15 L346.61,258.17 L348.06,258.18 L349.52,258.20 L350.97,258.21 L352.42,258.22 L353.87,258.24 L355.32,258.25 L356.78,258.26 L358.23,258.28 L359.68,258.29 L361.13,258.30 L362.58,258.31 L364.04,258.33 L365.49,258.34 L366.94,258.35 L368.39,258.36 L369.84,258.37 L371.30,258.38 L372.75,258.39 L374.20,258.41 L375.65,258.42 L377.10,258.43 L378.56,258.44 L380.01,258.45 L381.46,258.46 L382.91,258.47 L384.36,258.48 L385.82,258.49 L387.27,258.50 L388.72,258.50 L390.17,258.51 L391.62,258.52 L393.08,258.53 L394.53,258.54 L395.98,258.55 L397.43,258.56 L398.88,258.57 L400.34,258.57 L401.79,258.58 L403.24,258.59 L404.69,258.60 L406.14,258.61 L407.60,258.61 L409.05,258.62 L410.50,258.63" stroke="#000"/>
</g>
<text x="120.30" y="279.5" text-anchor="middle">2</text>
<text x="192.90" y="279.5" text-anchor="middle">4</text>
<text x="265.50" y="279.5" text-anchor="middle">6</text>
<text x="338.10" y="279.5" text-anchor="middle">8</text>
<text x="411.10" y="279.5" text-anchor="middle">10</text>
<text letter-spacing="-0.4" x="39.3" y="234.30" text-anchor="end">0.1</text>
<text letter-spacing="-0.4" x="39.3" y="204.40" text-anchor="end">0.2</text>
<text letter-spacing="-0.4" x="39.3" y="174.50" text-anchor="end">0.3</text>
<text letter-spacing="-0.4" x="39.3" y="144.60" text-anchor="end">0.4</text>
<text letter-spacing="-0.4" x="39.3" y="114.70" text-anchor="end">0.5</text>
<text letter-spacing="-0.4" x="39.3" y="84.80" text-anchor="end">0.6</text>
<text letter-spacing="-0.4" x="39.3" y="54.90" text-anchor="end">0.7</text>
<text x="431.8" y="264.3" style="font-size:15px">z</text>
<text x="26" y="15.4" style="font-size:16px">Ω</text><text x="37.2" y="18.4" style="font-size:11.5px">DE</text><text x="52.3 57.85 64.3" y="15.4" style="font-size:14.5px">(z)</text>
</svg>
</body></html>
